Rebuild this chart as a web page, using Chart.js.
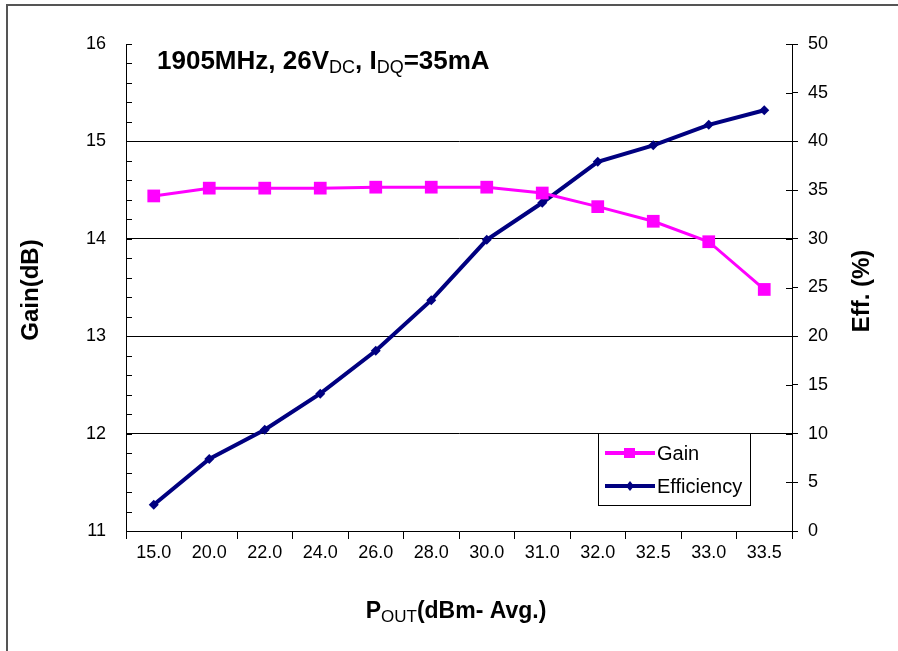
<!DOCTYPE html>
<html>
<head>
<meta charset="utf-8">
<script src="https://cdn.jsdelivr.net/npm/chart.js@4.4.0/dist/chart.umd.min.js"></script>
<style>
	body { margin: 0; background: #fff; }
	#wrap { width: 898px; height: 651px; position: relative; }
</style>
</head>
<body>
<div id="wrap"><canvas id="grafica"></canvas></div>
<script>
// datos
const potencias = ['15.0', '20.0', '22.0', '24.0', '26.0', '28.0', '30.0', '31.0', '32.0', '32.5', '33.0', '33.5'];
const ganancia = [14.44, 14.52, 14.52, 14.52, 14.53, 14.53, 14.53, 14.47, 14.33, 14.18, 13.97, 13.48];
const eficiencia = [2.7, 7.4, 10.4, 14.1, 18.5, 23.7, 29.9, 33.7, 37.9, 39.6, 41.7, 43.2];

const rosa = '#ff00ff';
const azul = '#000080';
const fuente = '"Liberation Sans", Arial, sans-serif';

// texto con subindices: partes = [[texto, esSub], ...]
function textoSub(ctx, partes, x, y, tam, tamSub, alinear) {
	let ancho = 0;
	partes.forEach(([t, s]) => {
		ctx.font = (s ? '' : 'bold ') + (s ? tamSub : tam) + 'px ' + fuente;
		ancho += ctx.measureText(t).width;
	});
	let px = alinear === 'center' ? x - ancho / 2 : x;
	ctx.textAlign = 'left';
	ctx.textBaseline = 'alphabetic';
	partes.forEach(([t, s]) => {
		ctx.font = (s ? '' : 'bold ') + (s ? tamSub : tam) + 'px ' + fuente;
		ctx.fillText(t, px, s ? y + 4 : y);
		px += ctx.measureText(t).width;
	});
}

function textoVertical(ctx, texto, x, y, tam) {
	ctx.save();
	ctx.translate(x, y);
	ctx.rotate(-Math.PI / 2);
	ctx.font = 'bold ' + tam + 'px ' + fuente;
	ctx.textAlign = 'center';
	ctx.textBaseline = 'middle';
	ctx.fillText(texto, 0, 0);
	ctx.restore();
}

const decoraciones = {
	id: 'decoraciones',
	afterDraw(chart) {
		const ctx = chart.ctx;
		const area = chart.chartArea;
		const y = chart.scales.y;
		const y1 = chart.scales.y1;
		ctx.save();
		ctx.strokeStyle = '#000';
		ctx.lineWidth = 1;

		// marcas menores hacia dentro, eje izquierdo
		for (let i = 0; i <= 25; i++) {
			const py = Math.round(y.getPixelForValue(11 + i * 0.2)) + 0.5;
			ctx.beginPath();
			ctx.moveTo(area.left, py);
			ctx.lineTo(area.left + 6, py);
			ctx.stroke();
		}
		// parte interior de las marcas del eje derecho
		for (let v = 0; v <= 50; v += 5) {
			const py = Math.round(y1.getPixelForValue(v)) + 0.5;
			ctx.beginPath();
			ctx.moveTo(area.right - 6, py);
			ctx.lineTo(area.right, py);
			ctx.stroke();
		}

		ctx.fillStyle = '#000';
		// titulo interior
		textoSub(ctx, [['1905MHz, 26V', false], ['DC', true], [', I', false], ['DQ', true], ['=35mA', false]], 157, 69, 26, 18, 'left');
		// titulo eje x
		textoSub(ctx, [['P', false], ['OUT', true], ['(dBm- Avg.)', false]], 456, 618, 23, 17, 'center');
		// titulos de los ejes y
		textoVertical(ctx, 'Gain(dB)', 31, 290, 24);
		textoVertical(ctx, 'Eff. (%)', 862, 291, 24);

		// leyenda
		const lx = 598, ly = 433, lw = 152, lh = 72;
		ctx.fillStyle = '#fff';
		ctx.fillRect(lx, ly, lw, lh);
		ctx.strokeStyle = '#000';
		ctx.lineWidth = 1;
		ctx.strokeRect(lx + 0.5, ly + 0.5, lw, lh);
		const filas = [
			{ texto: 'Gain', color: rosa, yy: ly + 20, ancho: 4 },
			{ texto: 'Efficiency', color: azul, yy: ly + 53, ancho: 4 },
		];
		filas.forEach((f, i) => {
			ctx.strokeStyle = f.color;
			ctx.lineWidth = f.ancho;
			ctx.beginPath();
			ctx.moveTo(lx + 7, f.yy);
			ctx.lineTo(lx + 57, f.yy);
			ctx.stroke();
			ctx.fillStyle = f.color;
			if (i === 0) {
				ctx.fillRect(lx + 26, f.yy - 5, 11, 10);
			} else {
				ctx.beginPath();
				ctx.moveTo(lx + 32, f.yy - 5);
				ctx.lineTo(lx + 36, f.yy);
				ctx.lineTo(lx + 32, f.yy + 5);
				ctx.lineTo(lx + 28, f.yy);
				ctx.closePath();
				ctx.fill();
			}
			ctx.fillStyle = '#000';
			ctx.font = '20px ' + fuente;
			ctx.textAlign = 'left';
			ctx.textBaseline = 'middle';
			ctx.fillText(f.texto, lx + 59, f.yy + 1);
		});

		// marco de la figura
		ctx.strokeStyle = '#555';
		ctx.lineWidth = 2;
		ctx.beginPath();
		ctx.moveTo(7, 651);
		ctx.lineTo(7, 5);
		ctx.lineTo(898, 5);
		ctx.stroke();
		ctx.restore();
	},
};

const fondo = {
	id: 'fondo',
	beforeDraw(chart) {
		const ctx = chart.ctx;
		ctx.save();
		ctx.fillStyle = '#fff';
		ctx.fillRect(0, 0, chart.width, chart.height);
		ctx.restore();
	},
};

const ctx = document.querySelector('#grafica');
const chart = new Chart(ctx, {
	type: 'line',
	data: {
		labels: potencias,
		datasets: [
			{
				label: 'Gain',
				data: ganancia,
				yAxisID: 'y',
				borderColor: rosa,
				backgroundColor: rosa,
				borderWidth: 3,
				pointStyle: 'rect',
				pointRadius: 9,
				pointBorderWidth: 0,
				tension: 0,
			},
			{
				label: 'Efficiency',
				data: eficiencia,
				yAxisID: 'y1',
				borderColor: azul,
				backgroundColor: azul,
				borderWidth: 4,
				pointStyle: 'rectRot',
				pointRadius: 5,
				pointBorderWidth: 0,
				tension: 0,
			},
		],
	},
	options: {
		responsive: true,
		maintainAspectRatio: false,
		animation: false,
		layout: { padding: { top: 44, left: 0, right: 0, bottom: 0 } },
		plugins: {
			legend: { display: false },
			tooltip: { enabled: false },
		},
		scales: {
			x: {
				type: 'category',
				offset: true,
				afterFit: (s) => { s.height = 120; },
				grid: {
					offset: true,
					drawOnChartArea: false,
					color: '#000',
					tickLength: 8,
				},
				border: { color: '#000', width: 1 },
				ticks: { color: '#000', font: { family: fuente, size: 18 }, padding: 3, maxRotation: 0 },
			},
			y: {
				position: 'left',
				min: 11,
				max: 16,
				afterFit: (s) => { s.width = 126; },
				ticks: { stepSize: 1, color: '#000', font: { family: fuente, size: 18 }, padding: 20 },
				grid: {
					drawTicks: false,
					color: (c) => (c.tick && c.tick.value > 11 && c.tick.value < 16 ? '#000' : 'rgba(0,0,0,0)'),
				},
				border: { color: '#000', width: 1 },
			},
			y1: {
				position: 'right',
				min: 0,
				max: 50,
				afterFit: (s) => { s.width = 106; },
				ticks: { stepSize: 5, color: '#000', font: { family: fuente, size: 18 }, padding: 10 },
				grid: { drawOnChartArea: false, color: '#000', tickLength: 6 },
				border: { color: '#000', width: 1 },
			},
		},
	},
	plugins: [fondo, decoraciones],
});
</script>
</body>
</html>
